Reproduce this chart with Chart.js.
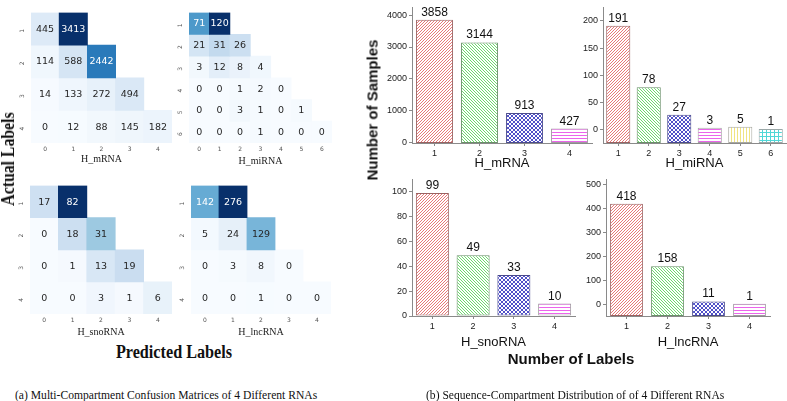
<!DOCTYPE html>
<html><head><meta charset="utf-8">
<script src="https://cdn.jsdelivr.net/npm/chart.js@4/dist/chart.umd.min.js"></script>
<style>
html,body{margin:0;padding:0;background:#fff;}
body{width:787px;height:401px;position:relative;overflow:hidden;}
canvas{position:absolute;}
.t{position:absolute;white-space:nowrap;line-height:1;}
.rot{transform:translate(-50%,-50%) rotate(-90deg);}
.ctr{transform:translate(-50%,-50%);}
</style></head><body>
<canvas id="h1" style="left:0;top:0" width="176" height="168"></canvas>
<canvas id="h2" style="left:166px;top:0" width="169" height="170"></canvas>
<canvas id="h3" style="left:0;top:173px" width="176" height="168"></canvas>
<canvas id="h4" style="left:166px;top:173px" width="169" height="168"></canvas>
<canvas id="b1" style="left:380px;top:0" width="215" height="172"></canvas>
<canvas id="b2" style="left:578px;top:0" width="209" height="172"></canvas>
<canvas id="b3" style="left:380px;top:172px" width="200" height="180"></canvas>
<canvas id="b4" style="left:578px;top:172px" width="209" height="180"></canvas>

<div class="t" style="left:8px;top:159px;transform:translate(-50%,-50%) rotate(-90deg) scaleX(0.83);font:bold 19px 'Liberation Serif',serif;color:#111">Actual Labels</div>
<div class="t" style="left:174px;top:352px;transform:translate(-50%,-50%) scaleX(0.9);font:bold 18px 'Liberation Serif',serif;color:#111">Predicted Labels</div>
<div class="t rot" style="left:372px;top:110px;font:bold 15px 'Liberation Sans',Arial,sans-serif;color:#111">Number of Samples</div>
<div class="t ctr" style="left:571px;top:358px;font:bold 15px 'Liberation Sans',Arial,sans-serif;color:#111">Number of Labels</div>
<div class="t" style="left:15px;top:387px;transform-origin:0 0;transform:scaleX(0.892);font:13px 'Liberation Serif',serif;color:#111">(a) Multi-Compartment Confusion Matrices of 4 Different RNAs</div>
<div class="t" style="left:426px;top:387px;transform-origin:0 0;transform:scaleX(0.892);font:13px 'Liberation Serif',serif;color:#111">(b) Sequence-Compartment Distribution of of 4 Different RNAs</div>

<script>
// ---------------- DATA ----------------
// Confusion matrices: rows = actual labels, columns = predicted labels (null = no cell)
const mrnaRows = ['1', '2', '3', '4'];
const mrnaCols = ['0', '1', '2', '3', '4'];
const mrnaMatrix = [
  [445, 3413, null, null, null],
  [114, 588, 2442, null, null],
  [14, 133, 272, 494, null],
  [0, 12, 88, 145, 182]
];
const mirnaRows = ['1', '2', '3', '4', '5', '6'];
const mirnaCols = ['0', '1', '2', '3', '4', '5', '6'];
const mirnaMatrix = [
  [71, 120, null, null, null, null, null],
  [21, 31, 26, null, null, null, null],
  [3, 12, 8, 4, null, null, null],
  [0, 0, 1, 2, 0, null, null],
  [0, 0, 3, 1, 0, 1, null],
  [0, 0, 0, 1, 0, 0, 0]
];
const snornaRows = ['1', '2', '3', '4'];
const snornaCols = ['0', '1', '2', '3', '4'];
const snornaMatrix = [
  [17, 82, null, null, null],
  [0, 18, 31, null, null],
  [0, 1, 13, 19, null],
  [0, 0, 3, 1, 6]
];
const lncrnaRows = ['1', '2', '3', '4'];
const lncrnaCols = ['0', '1', '2', '3', '4'];
const lncrnaMatrix = [
  [142, 276, null, null, null],
  [5, 24, 129, null, null],
  [0, 3, 8, 0, null],
  [0, 0, 1, 0, 0]
];

// Label-count distributions
const mrnaLabels = ['1', '2', '3', '4'];
const mrnaCounts = [3858, 3144, 913, 427];
const mrnaTicks = [0, 1000, 2000, 3000, 4000];

const mirnaLabels = ['1', '2', '3', '4', '5', '6'];
const mirnaCounts = [191, 78, 27, 3, 5, 1];
const mirnaTicks = [0, 50, 100, 150, 200];

const snornaLabels = ['1', '2', '3', '4'];
const snornaCounts = [99, 49, 33, 10];
const snornaTicks = [0, 20, 40, 60, 80, 100];

const lncrnaLabels = ['1', '2', '3', '4'];
const lncrnaCounts = [418, 158, 11, 1];
const lncrnaTicks = [0, 100, 200, 300, 400, 500];

// ---------------- STYLE ----------------
const SERIF = "'Liberation Serif','Times New Roman',serif";
const SANS = "'Liberation Sans',Arial,sans-serif";
const DJV = "'DejaVu Sans',sans-serif";
const AX = '#8a8a8a';

Chart.defaults.animation = false;
Chart.defaults.responsive = false;
Chart.defaults.devicePixelRatio = 1;
Chart.defaults.plugins.legend.display = false;
Chart.defaults.plugins.tooltip.enabled = false;

const BLUES = ['#f7fbff','#deebf7','#c6dbef','#9ecae1','#6baed6','#4292c6','#2171b5','#08519c','#08306b'];
function hex2rgb(h){ return [parseInt(h.slice(1,3),16), parseInt(h.slice(3,5),16), parseInt(h.slice(5,7),16)]; }
function blues(t) {
  t = Math.max(0, Math.min(1, t));
  const p = t * 8, i = Math.min(7, Math.floor(p)), f = p - i;
  const a = hex2rgb(BLUES[i]), b = hex2rgb(BLUES[i + 1]);
  return 'rgb(' + a.map((v, k) => Math.round(v + (b[k] - v) * f)).join(',') + ')';
}
function textColorFor(rgb) {
  const m = rgb.match(/\d+/g).map(Number).map(v => {
    v /= 255; return v <= 0.03928 ? v / 12.92 : Math.pow((v + 0.055) / 1.055, 2.4);
  });
  const lum = 0.2126 * m[0] + 0.7152 * m[1] + 0.0722 * m[2];
  return lum > 0.408 ? '#262626' : '#ffffff';
}

const cellLabels = {
  id: 'cellLabels',
  afterDatasetsDraw(chart) {
    const ctx = chart.ctx;
    ctx.save();
    ctx.font = '9.5px ' + DJV;
    ctx.textAlign = 'center';
    ctx.textBaseline = 'middle';
    chart.data.datasets.forEach((ds, di) => {
      chart.getDatasetMeta(di).data.forEach((el, i) => {
        const v = ds.cellValues[i];
        if (v === null) return;
        ctx.fillStyle = textColorFor(ds.backgroundColor[i]);
        ctx.fillText(String(v), el.x, (el.y + el.base) / 2 + 0.5);
      });
    });
    ctx.restore();
  }
};

function heatmap(id, rows, cols, matrix, title, g) {
  const vals = matrix.flat().filter(v => v !== null);
  const vmax = Math.max(...vals), vmin = Math.min(...vals);
  const datasets = matrix.map((row, r) => ({
    data: row.map(v => v === null ? null : [r, r + 1]),
    cellValues: row,
    backgroundColor: row.map(v => v === null ? 'rgb(255,255,255)' : blues((v - vmin) / (vmax - vmin))),
    borderWidth: 0, barPercentage: 1, categoryPercentage: 1, inflateAmount: 0.4
  }));
  new Chart(document.getElementById(id), {
    type: 'bar',
    data: { labels: cols, datasets },
    options: {
      layout: { padding: { left: 0, right: g.pr, top: 0, bottom: 0 } },
      scales: {
        x: {
          stacked: true,
          grid: { display: false, drawTicks: false }, border: { display: false },
          ticks: { font: { family: DJV, size: 6 }, color: '#555', padding: 3, maxRotation: 0, autoSkip: false },
          title: { display: true, text: title, font: { family: SERIF, size: 10 }, color: '#222', padding: { top: 0, bottom: g.tpb } },
          afterFit: s => { s.height = g.xh; }
        },
        y: {
          min: 0, max: rows.length, reverse: true, stacked: false,
          grid: { display: false, drawTicks: false }, border: { display: false },
          afterBuildTicks: s => { s.ticks = rows.map((_, i) => ({ value: i + 0.5 })); },
          ticks: { callback: (v, i) => rows[i], minRotation: 90, maxRotation: 90,
                   font: { family: DJV, size: 6 }, color: '#555', padding: g.ypad },
          afterFit: s => { s.width = g.yw; }
        }
      }
    },
    plugins: [cellLabels]
  });
}

// hatch patterns
function makePattern(kind, color, s) {
  const c = document.createElement('canvas');
  c.width = s; c.height = s;
  const g = c.getContext('2d');
  g.fillStyle = '#ffffff'; g.fillRect(0, 0, s, s);
  g.fillStyle = color;
  for (let i = 0; i < s; i++) {
    if (kind === 'fwd') g.fillRect(i, s - 1 - i, 1, 1);
    if (kind === 'back') g.fillRect(i, i, 1, 1);
    if (kind === 'cross') { g.fillRect(i, i, 1, 1); g.fillRect(i, s - 1 - i, 1, 1); }
    if (kind === 'horiz') g.fillRect(i, 0, 1, 1);
    if (kind === 'vert') g.fillRect(0, i, 1, 1);
    if (kind === 'grid') { g.fillRect(i, 0, 1, 1); g.fillRect(0, i, 1, 1); }
  }
  return g.createPattern(c, 'repeat');
}
const PATTERNS = [
  makePattern('fwd', 'rgb(232,120,120)', 3),
  makePattern('back', 'rgb(110,218,110)', 3),
  makePattern('cross', 'rgb(80,80,200)', 4),
  makePattern('horiz', 'rgb(236,100,236)', 3),
  makePattern('vert', 'rgb(240,228,130)', 3),
  makePattern('grid', 'rgb(80,215,215)', 4)
];
const BORDERS = ['#9a6262', '#6a906a', '#4a4a8c', '#a09aa0', '#a8a8a0', '#9aa8a8'];

const barLabels = {
  id: 'barLabels',
  afterDatasetsDraw(chart) {
    const ctx = chart.ctx;
    ctx.save();
    ctx.font = '12px ' + SANS;
    ctx.fillStyle = '#111';
    ctx.textAlign = 'center';
    ctx.textBaseline = 'alphabetic';
    const ds = chart.data.datasets[0];
    chart.getDatasetMeta(0).data.forEach((el, i) => {
      ctx.fillText(String(ds.data[i]), el.x, el.y - 4);
    });
    ctx.restore();
  }
};

function barChart(id, cats, values, title, yTicks, yMin, yMax, g) {
  new Chart(document.getElementById(id), {
    type: 'bar',
    data: {
      labels: cats,
      datasets: [{
        data: values, base: yMin,
        backgroundColor: cats.map((_, i) => PATTERNS[i]),
        borderColor: cats.map((_, i) => BORDERS[i]),
        borderWidth: 1, borderSkipped: false,
        barPercentage: g.bp, categoryPercentage: 1
      }]
    },
    options: {
      layout: { padding: { left: 0, right: g.pr, top: g.pt, bottom: 0 } },
      scales: {
        x: {
          grid: { display: true, drawOnChartArea: false, drawTicks: true, tickLength: 3, offset: false, color: AX },
          border: { display: true, color: AX },
          ticks: { font: { family: SANS, size: 9 }, color: '#222', padding: 2, maxRotation: 0 },
          title: { display: true, text: title, font: { family: SANS, size: 13 }, color: '#111', padding: { top: 0, bottom: g.tpb } },
          afterFit: s => { s.height = g.xh; }
        },
        y: {
          min: yMin, max: yMax,
          afterBuildTicks: s => { s.ticks = yTicks.map(v => ({ value: v })); },
          grid: { display: true, drawOnChartArea: false, drawTicks: true, tickLength: 3, color: AX },
          border: { display: true, color: AX },
          ticks: { font: { family: SANS, size: 9 }, color: '#222', padding: 2, callback: v => String(v) },
          afterFit: s => { s.width = g.yw; }
        }
      }
    },
    plugins: [barLabels]
  });
}

heatmap('h1', mrnaRows, mrnaCols, mrnaMatrix, 'H_mRNA', { yw: 31, pr: 4, xh: 25, tpb: 3, ypad: 9 });
heatmap('h2', mirnaRows, mirnaCols, mirnaMatrix, 'H_miRNA', { yw: 23, pr: 3, xh: 27, tpb: 3, ypad: 9 });
heatmap('h3', snornaRows, snornaCols, snornaMatrix, 'H_snoRNA', { yw: 30, pr: 4, xh: 27, tpb: 3, ypad: 9 });
heatmap('h4', lncrnaRows, lncrnaCols, lncrnaMatrix, 'H_lncRNA', { yw: 25, pr: 4, xh: 27, tpb: 3, ypad: 9 });

barChart('b1', mrnaLabels, mrnaCounts, 'H_mRNA', mrnaTicks, -30, 4250, { yw: 32, pr: 3, pt: 7, xh: 29, tpb: 1, bp: 0.82 });
barChart('b2', mirnaLabels, mirnaCounts, 'H_miRNA', mirnaTicks, -25, 225, { yw: 25, pr: 1, pt: 6, xh: 29, tpb: 1, bp: 0.79 });
barChart('b3', snornaLabels, snornaCounts, 'H_snoRNA', snornaTicks, 0, 110, { yw: 32, pr: 5, pt: 6.5, xh: 36, tpb: 2, bp: 0.81 });
barChart('b4', lncrnaLabels, lncrnaCounts, 'H_lncRNA', lncrnaTicks, -50, 520, { yw: 28, pr: 17, pt: 3.5, xh: 36, tpb: 2, bp: 0.8 });
</script>
</body></html>
